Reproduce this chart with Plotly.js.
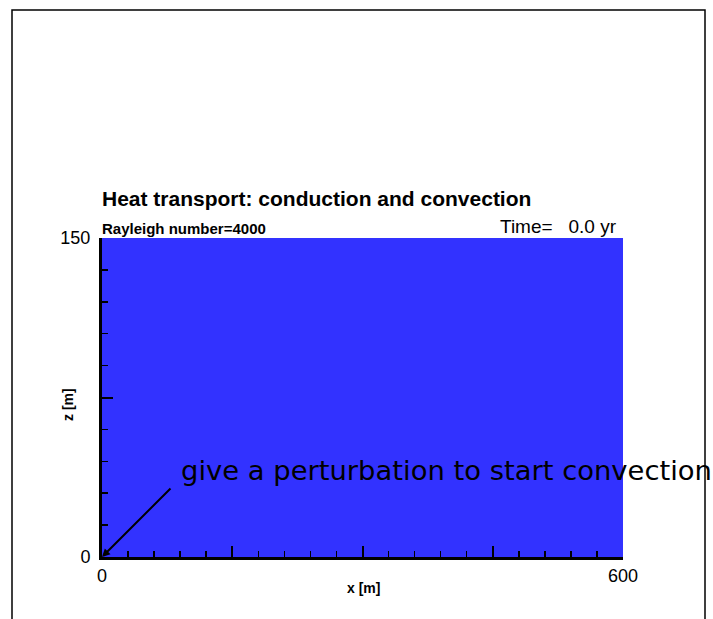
<!DOCTYPE html>
<html>
<head>
<meta charset="utf-8">
<script src="https://cdn.plot.ly/plotly-3.0.1.min.js"></script>
<style>
html,body{margin:0;padding:0;background:#fff;}
#chart{width:713px;height:619px;}
</style>
</head>
<body>
<div id="chart"></div>
<script>
// Data
const xEdges = [0, 600];          // domain x [m]
const zEdges = [0, 150];          // domain z [m]
const temperature = [[0]];        // uniform initial temperature field
const xTickVals = [0, 150, 300, 450, 600];
const xTickText = ['0', '', '', '', '600'];
const zTickVals = [0, 75, 150];
const zTickText = ['0', '', '150'];
const titleText = 'Heat transport: conduction and convection';
const subLeft = 'Rayleigh number=4000';
const subRight = 'Time=&nbsp;&nbsp;&nbsp;0.0 yr';
const xTitle = 'x [m]';
const zTitle = 'z [m]';
const noteText = 'give a perturbation to start convection';
const notePoint = [0, 0];

const W = 713, H = 619;
const L = 102, R = 90, T = 238, B = 62;
const pw = W - L - R, ph = H - T - B;
const px = v => (v - L) / pw;
const py = v => (H - B - v) / ph;

const trace = {
  type: 'heatmap',
  x: xEdges,
  y: zEdges,
  z: temperature,
  colorscale: [[0, '#3232ff'], [1, '#3232ff']],
  showscale: false,
  hoverinfo: 'skip'
};

const FF = 'Liberation Sans, Arial, sans-serif';
const tickFont = {family: FF, size: 18, color: '#000'};

const layout = {
  width: W, height: H,
  margin: {l: L, r: R, t: T, b: B, pad: 0},
  paper_bgcolor: '#fff',
  plot_bgcolor: '#fff',
  showlegend: false,
  xaxis: {
    range: [0, 600],
    showgrid: false, zeroline: false,
    showline: true, linecolor: '#000', linewidth: 3,
    ticks: 'inside', ticklen: 11, tickwidth: 2, tickcolor: '#000',
    tickvals: xTickVals, ticktext: xTickText,
    tickfont: tickFont, ticklabelstandoff: 0,
    minor: {dtick: 30, tick0: 0, ticks: 'inside', ticklen: 6, tickwidth: 1.5, tickcolor: '#000', showgrid: false},
    fixedrange: true
  },
  yaxis: {
    range: [0, 150],
    showgrid: false, zeroline: false,
    showline: true, linecolor: '#000', linewidth: 3,
    ticks: 'inside', ticklen: 11, tickwidth: 2, tickcolor: '#000',
    tickvals: zTickVals, ticktext: zTickText,
    tickfont: tickFont, ticklabelstandoff: 5,
    minor: {dtick: 15, tick0: 0, ticks: 'inside', ticklen: 6, tickwidth: 1.5, tickcolor: '#000', showgrid: false},
    fixedrange: true
  },
  shapes: [
    {type: 'rect', xref: 'paper', yref: 'paper',
     x0: px(12), x1: px(705), y0: py(640), y1: py(10),
     line: {color: '#000', width: 1.5}, fillcolor: 'rgba(0,0,0,0)', layer: 'below'}
  ],
  annotations: [
    {xref: 'paper', yref: 'paper', x: px(100), y: py(199), xanchor: 'left', yanchor: 'middle',
     text: '<b>' + titleText + '</b>', showarrow: false,
     font: {family: FF, size: 21, color: '#000'}},
    {xref: 'paper', yref: 'paper', x: px(100), y: py(228), xanchor: 'left', yanchor: 'middle',
     text: '<b>' + subLeft + '</b>', showarrow: false,
     font: {family: FF, size: 15, color: '#000'}},
    {xref: 'paper', yref: 'paper', x: px(619), y: py(227), xanchor: 'right', yanchor: 'middle',
     text: subRight, showarrow: false,
     font: {family: FF, size: 19, color: '#000'}},
    {xref: 'paper', yref: 'paper', x: px(363), y: py(588), xanchor: 'center', yanchor: 'middle',
     text: '<b>' + xTitle + '</b>', showarrow: false,
     font: {family: FF, size: 14, color: '#000'}},
    {xref: 'paper', yref: 'paper', x: px(68), y: py(405), xanchor: 'center', yanchor: 'middle',
     text: '<b>' + zTitle + '</b>', showarrow: false, textangle: -90,
     font: {family: FF, size: 14, color: '#000'}},
    {xref: 'x', yref: 'y', x: notePoint[0], y: notePoint[1],
     ax: 70, ay: -70, axref: 'pixel', ayref: 'pixel',
     text: '', showarrow: true, arrowhead: 2, arrowsize: 0.8, arrowwidth: 2, arrowcolor: '#000', standoff: 0},
    {xref: 'paper', yref: 'paper', x: px(179), y: py(470), xanchor: 'left', yanchor: 'middle',
     text: noteText, showarrow: false,
     font: {family: 'DejaVu Sans, sans-serif', size: 27.4, color: '#000'}}
  ]
};

Plotly.newPlot('chart', [trace], layout, {staticPlot: true, displayModeBar: false});
</script>
</body>
</html>
